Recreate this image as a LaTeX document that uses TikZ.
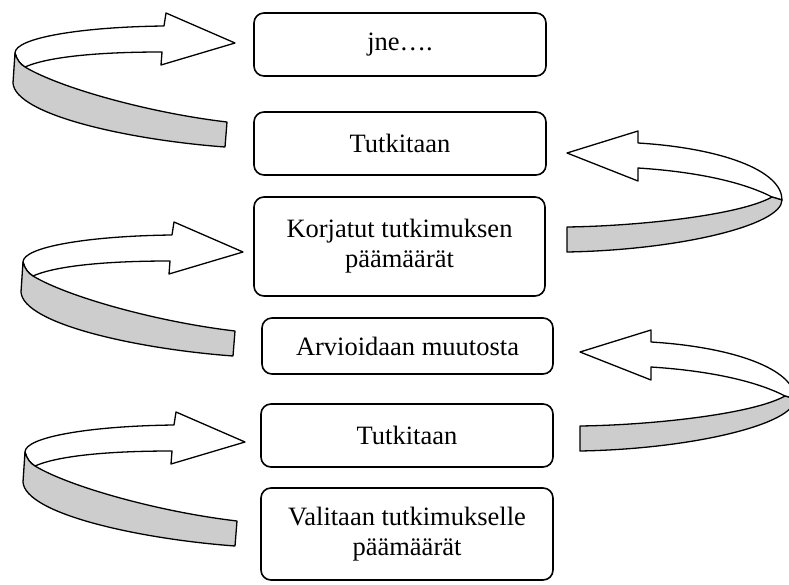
\documentclass[tikz,border=0pt]{standalone}
\usepackage{fontspec}
\setmainfont{Liberation Serif}
\definecolor{ribgray}{RGB}{205,205,205}
\tikzset{
  box/.style={draw, line width=1.6pt, rounded corners=10pt, inner sep=0pt,
    align=center, font=\fontsize{26.5}{30}\selectfont},
  ribbon/.style={draw, line width=1.3pt, line join=round},
}
\newcommand{\loopfromleft}[1]{%
  \begin{scope}[shift={#1}]
    \path[ribbon, fill=white] (164,26) -- (166,13) -- (235,43) -- (161,65) -- (162,52)
      .. controls (90,52) and (45,58) .. (25,67)
      .. controls (20,64) and (17,60) .. (15,53)
      .. controls (15,38) and (80,27) .. (164,26) -- cycle;
    \path[ribbon, fill=ribgray] (15,53) .. controls (17,60) and (20,64) .. (25,67)
      .. controls (60,88) and (150,113) .. (227,122) -- (225,147)
      .. controls (130,140) and (15,115) .. (13,83) -- cycle;
  \end{scope}}
\newcommand{\loopfromright}[1]{%
  \begin{scope}[shift={#1}]
    \path[ribbon, fill=white] (638,143) -- (638,131) -- (567,153) -- (638,181) -- (638,168)
      .. controls (700,172) and (745,183) .. (772,197) -- (782,200)
      .. controls (782,170) and (720,148) .. (638,143) -- cycle;
    \path[ribbon, fill=ribgray] (567,227) -- (567,252)
      .. controls (680,250) and (782,225) .. (782,200) -- (772,197)
      .. controls (740,215) and (640,226) .. (567,227) -- cycle;
  \end{scope}}
\begin{document}
\begin{tikzpicture}[x=1pt,y=-1pt]
\useasboundingbox (0,0) rectangle (789,585);
\begin{scope}
  \clip (0,0) rectangle (789,585);
  \loopfromleft{(0,0)}
  \loopfromleft{(8,209)}
  \loopfromleft{(10,399)}
  \loopfromright{(0,0)}
  \loopfromright{(13,199)}
\end{scope}
\node[box, minimum width=292pt, minimum height=63pt] (b1) at (400,44.5) {jne….};
\node[box, minimum width=292pt, minimum height=63pt] (b2) at (400,143.5) {Tutkitaan};
\node[box, minimum width=291pt, minimum height=99pt] (b3) at (399.5,246.5) {Korjatut tutkimuksen\\päämäärät};
\node[box, minimum width=291pt, minimum height=56pt] (b4) at (407.5,346) {Arvioidaan muutosta};
\node[box, minimum width=292pt, minimum height=63pt] (b5) at (407,435.5) {Tutkitaan};
\node[box, minimum width=292pt, minimum height=92pt] (b6) at (407,534) {Valitaan tutkimukselle\\päämäärät};
\end{tikzpicture}
\end{document}
